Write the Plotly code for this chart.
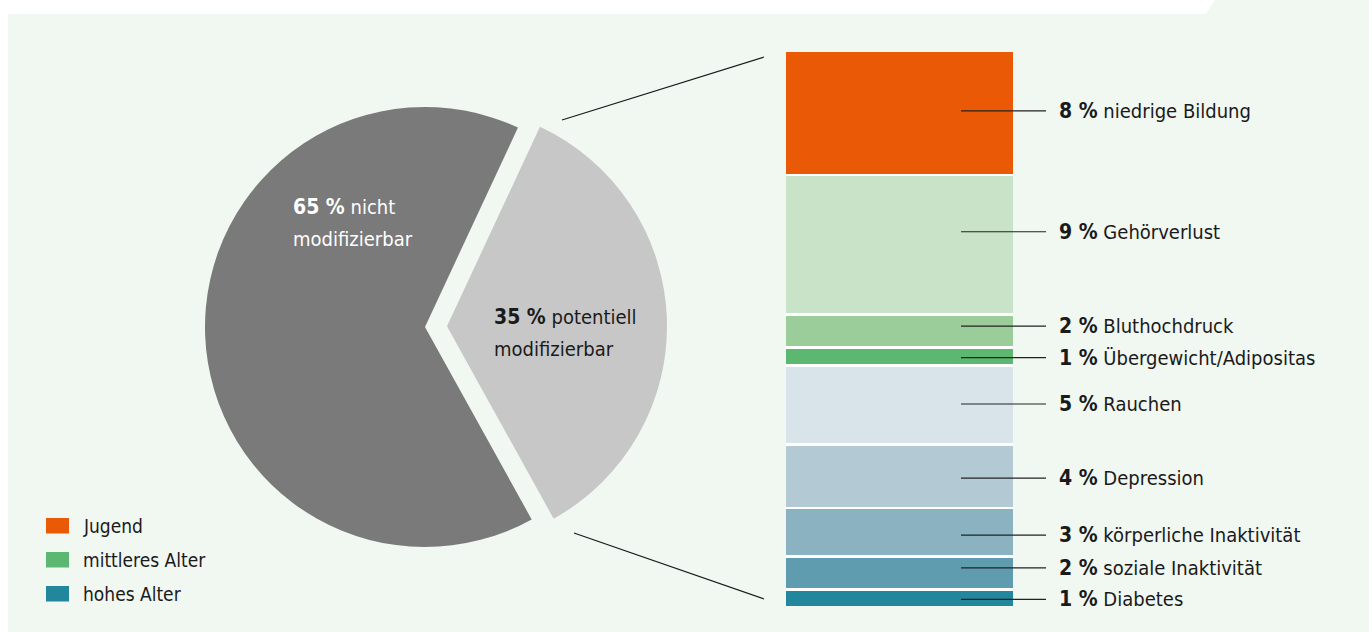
import plotly.graph_objects as go

W, H = 1372, 632

# ---- data ----
pie_labels = ["potentiell modifizierbar", "nicht modifizierbar"]
pie_values = [35, 65]
pie_colors = ["#c6c7c6", "#7a7a7a"]

risk_labels = ["niedrige Bildung", "Gehörverlust", "Bluthochdruck", "Übergewicht/Adipositas",
               "Rauchen", "Depression", "körperliche Inaktivität", "soziale Inaktivität", "Diabetes"]
risk_values = [8, 9, 2, 1, 5, 4, 3, 2, 1]
risk_colors = ["#ea5a06", "#c9e3c9", "#9bcd9b", "#5cb870",
               "#d9e4ea", "#b3cad4", "#8ab2c0", "#5f9caf", "#22869c"]

legend_labels = ["Jugend", "mittleres Alter", "hohes Alter"]
legend_colors = ["#ea5a06", "#5cb870", "#22869c"]

# layout tweaks (pixels) for label placement relative to segment centre
label_shift_px = [-2, -13, -5, 1, -1, 2, 3, -5, 1]

FONT = "Liberation Sans Narrow, DejaVu Sans Condensed, Arial Narrow, sans-serif"
BG = "#f1f7f1"
GAP = 0.18  # gap between segments, in data units


def px(x):
    return x / W


def py(y):
    return 1 - y / H


def bold(s):
    return f"<b><span style='font-size:21px'>{s}</span></b>"


fig = go.Figure()

# pie: centre (425,327), radius 220, pull 0.1
cx, cy, half = 425, 327, 242
fig.add_trace(go.Pie(
    labels=pie_labels, values=pie_values, sort=False, direction="clockwise",
    rotation=25, pull=[0.1, 0], marker=dict(colors=pie_colors, line=dict(width=0)),
    textinfo="none", hoverinfo="skip", showlegend=False,
    domain=dict(x=[px(cx - half), px(cx + half)], y=[py(cy + half), py(cy - half)]),
))

bar_top, bar_bot = 52, 606
total = sum(risk_values) + GAP * (len(risk_values) - 1)
unit_px = (bar_bot - bar_top) / total

shapes = []
annotations = []

# background panel with cut corner
shapes.append(dict(type="path", xref="paper", yref="paper", layer="below",
                   path=f"M {px(8)} {py(14)} L {px(1206)} {py(14)} L {px(1215)} {py(0)} "
                        f"L {px(1369)} {py(0)} L {px(1369)} {py(632)} L {px(8)} {py(632)} Z",
                   fillcolor=BG, line=dict(width=0)))
# white backing of the bar so the gaps between segments read white
shapes.append(dict(type="rect", xref="x", yref="y", layer="below", x0=-0.5, x1=0.5, y0=0, y1=total,
                   fillcolor="white", line=dict(width=0)))

start = 0
for i, (lab, val, col) in enumerate(zip(risk_labels, risk_values, risk_colors)):
    fig.add_trace(go.Bar(x=[0], y=[val], base=[start], name=lab,
                         marker=dict(color=col, line=dict(width=0)),
                         width=1, showlegend=False, hoverinfo="skip", xaxis="x", yaxis="y"))
    mid = start + val / 2 + label_shift_px[i] / unit_px
    start += val + GAP
    shapes.append(dict(type="line", xref="paper", yref="y", x0=px(961), x1=px(1046), y0=mid, y1=mid,
                       line=dict(color="#222222", width=1.2)))
    annotations.append(dict(xref="paper", yref="y", x=px(1057), y=mid, xanchor="left", yanchor="middle",
                            showarrow=False, text=f"{bold(f'{val} %')} {lab}",
                            font=dict(family=FONT, size=20, color="#1a1a1a")))

# connector lines pie -> bar
shapes.append(dict(type="line", xref="paper", yref="paper", x0=px(562), y0=py(120), x1=px(764), y1=py(57),
                   line=dict(color="#1a1a1a", width=1.2)))
shapes.append(dict(type="line", xref="paper", yref="paper", x0=px(574), y0=py(533), x1=px(764), y1=py(599),
                   line=dict(color="#1a1a1a", width=1.2)))

# pie labels
annotations += [
    dict(xref="paper", yref="paper", x=px(291), y=py(207), xanchor="left", yanchor="middle", showarrow=False,
         text=f"{bold(f'{pie_values[1]} %')} nicht", font=dict(family=FONT, size=20, color="white")),
    dict(xref="paper", yref="paper", x=px(291), y=py(239), xanchor="left", yanchor="middle", showarrow=False,
         text="modifizierbar", font=dict(family=FONT, size=20, color="white")),
    dict(xref="paper", yref="paper", x=px(492), y=py(317), xanchor="left", yanchor="middle", showarrow=False,
         text=f"{bold(f'{pie_values[0]} %')} potentiell", font=dict(family=FONT, size=20, color="#1a1a1a")),
    dict(xref="paper", yref="paper", x=px(492), y=py(349), xanchor="left", yanchor="middle", showarrow=False,
         text="modifizierbar", font=dict(family=FONT, size=20, color="#1a1a1a")),
]

# legend
for i, (lab, col) in enumerate(zip(legend_labels, legend_colors)):
    yc = 526 + 34 * i
    shapes.append(dict(type="rect", xref="paper", yref="paper", x0=px(46), x1=px(69),
                       y0=py(yc - 8), y1=py(yc + 7.5), fillcolor=col, line=dict(width=0)))
    annotations.append(dict(xref="paper", yref="paper", x=px(81), y=py(yc), xanchor="left", yanchor="middle",
                            showarrow=False, text=lab, font=dict(family=FONT, size=19, color="#1a1a1a")))

fig.update_layout(
    width=W, height=H, margin=dict(l=0, r=0, t=0, b=0),
    paper_bgcolor="white", plot_bgcolor="rgba(0,0,0,0)",
    barmode="overlay", bargap=0,
    xaxis=dict(domain=[px(786), px(1013)], range=[-0.5, 0.5], visible=False, fixedrange=True),
    yaxis=dict(domain=[py(bar_bot), py(bar_top)], range=[total, 0], visible=False, fixedrange=True),
    shapes=shapes, annotations=annotations, showlegend=False,
    font=dict(family=FONT),
)

fig.write_html("out.html", config={"displayModeBar": False},
               post_script="document.body.style.margin='0';")
